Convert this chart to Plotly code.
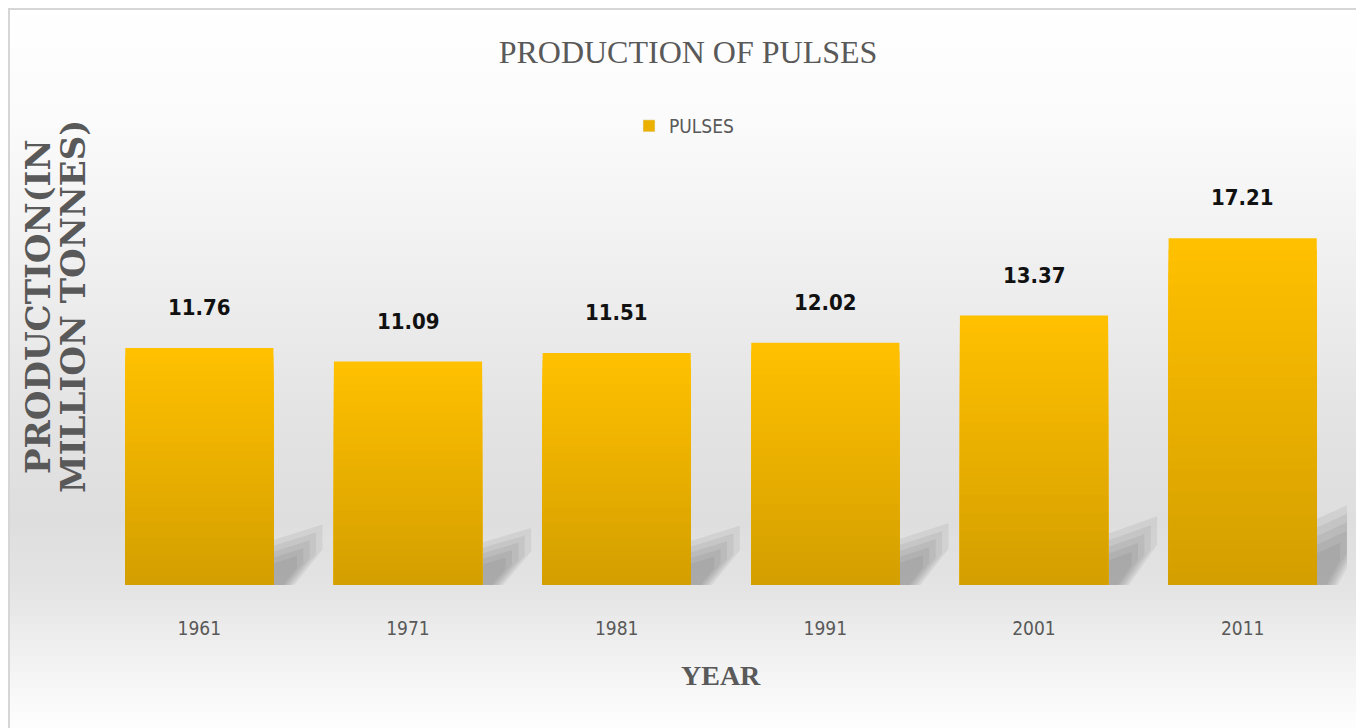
import plotly.graph_objects as go

# ---- data ----
years = ["1961", "1971", "1981", "1991", "2001", "2011"]
production = [11.76, 11.09, 11.51, 12.02, 13.37, 17.21]
series_name = "PULSES"
chart_title = "PRODUCTION OF PULSES"
y_title_lines = ["PRODUCTION(IN", "MILLION TONNES)"]
x_title = "YEAR"

# ---- layout geometry (window pixels; page body has an 8px margin) ----
OFF = 8
W, H = 1364 - OFF, 728 - OFF
PLOT_TOP, PLOT_BOTTOM = 212 - OFF, 585 - OFF
PLOT_LEFT, PLOT_RIGHT = 95 - OFF, 1347 - OFF
PH = PLOT_BOTTOM - PLOT_TOP

NARROW = "DejaVu Sans Condensed, Liberation Sans Narrow, Arial Narrow, Liberation Sans"


def py(p):
    """window pixel row -> paper y"""
    return (PLOT_BOTTOM - (p - OFF)) / PH


def px(p):
    """window pixel column -> paper x"""
    return ((p - OFF) - PLOT_LEFT) / (PLOT_RIGHT - PLOT_LEFT)


def hexmix(c1, c2, t):
    a = [int(c1[i:i + 2], 16) for i in (1, 3, 5)]
    b = [int(c2[i:i + 2], 16) for i in (1, 3, 5)]
    return "#%02x%02x%02x" % tuple(round(a[k] + (b[k] - a[k]) * t) for k in range(3))


fig = go.Figure()

# bar with vertical gradient (layered overlay, each layer derived from data)
TOP_C, BOT_C = "#FFC000", "#D49F00"
N = 30
for k in range(N):
    frac = 1 - k / N
    fig.add_trace(go.Bar(
        x=years, y=[v * frac for v in production],
        marker=dict(color=hexmix(TOP_C, BOT_C, k / (N - 1)), line=dict(width=0)),
        name=series_name, showlegend=False, hoverinfo="skip",
    ))
# legend entry
fig.add_trace(go.Bar(
    x=years, y=[None] * len(years), name=series_name,
    marker=dict(color="#EBB000"), showlegend=True,
))

shapes = []
# background gradient (white -> gray -> white)
stops = [(0, "#ffffff"), (120, "#fbfbfb"), (260, "#f0f0f0"), (420, "#e3e3e3"),
         (520, "#dedede"), (590, "#e4e4e4"), (650, "#f0f0f0"), (728, "#fefefe")]
bands = 90
for i in range(bands):
    p0 = OFF + (728 - OFF) * i / bands
    p1 = OFF + (728 - OFF) * (i + 1) / bands
    pm = (p0 + p1) / 2
    for j in range(len(stops) - 1):
        if stops[j][0] <= pm <= stops[j + 1][0]:
            t = (pm - stops[j][0]) / (stops[j + 1][0] - stops[j][0])
            col = hexmix(stops[j][1], stops[j + 1][1], t)
            break
    shapes.append(dict(type="rect", xref="paper", yref="paper", layer="below",
                       x0=px(OFF), x1=px(1364), y0=py(p1 + 0.6), y1=py(p0),
                       fillcolor=col, line=dict(width=0)))
# frame border lines
shapes.append(dict(type="line", xref="paper", yref="paper", layer="below",
                   x0=px(OFF + 1), x1=px(OFF + 1), y0=py(728), y1=py(OFF),
                   line=dict(color="#d6d6d6", width=2)))
shapes.append(dict(type="line", xref="paper", yref="paper", layer="below",
                   x0=px(OFF), x1=px(1364), y0=py(OFF + 1), y1=py(OFF + 1),
                   line=dict(color="#d6d6d6", width=2)))

# soft shadows to the right of each bar (nested translucent layers = blur)
half = 0.355
for i, v in enumerate(production):
    xr = i + half
    layers = 5
    for m in range(layers):
        s = 1 - m * 0.13
        path = (f"M {xr},0 L {xr},{0.19 * v * s} "
                f"L {xr + 0.235 * s},{0.255 * v * s} "
                f"L {xr + 0.235 * s},{0.15 * v * s} "
                f"L {xr + 0.1 * s},0 Z")
        shapes.append(dict(type="path", xref="x", yref="y", layer="below",
                           path=path, fillcolor="rgba(100,100,100,0.11)",
                           line=dict(width=0)))

annotations = []
# value labels
for i, v in enumerate(production):
    annotations.append(dict(x=i, y=v, xref="x", yref="y", text=f"<b>{v:.2f}</b>",
                            showarrow=False, yanchor="bottom", yshift=26,
                            font=dict(family=NARROW, size=22, color="#111111")))
# y-axis title (two lines)
for line_text, xpix in zip(y_title_lines, (38, 73)):
    annotations.append(dict(x=px(xpix), y=py(307), xref="paper", yref="paper",
                            text=f"<b>{line_text}</b>", textangle=-90, showarrow=False,
                            xanchor="center", yanchor="middle",
                            font=dict(family="DejaVu Serif", size=34, color="#595959")))
# x-axis title
annotations.append(dict(x=px(721), y=py(675), xref="paper", yref="paper",
                        text=f"<b>{x_title}</b>", showarrow=False,
                        xanchor="center", yanchor="middle",
                        font=dict(family="Liberation Serif, Times New Roman", size=28,
                                  color="#595959")))

fig.update_layout(
    width=W, height=H,
    margin=dict(l=PLOT_LEFT, r=W - PLOT_RIGHT, t=PLOT_TOP, b=H - PLOT_BOTTOM),
    paper_bgcolor="#ffffff", plot_bgcolor="rgba(0,0,0,0)",
    barmode="overlay", bargap=0.29,
    title=dict(text=chart_title, x=px(688), xref="paper", xanchor="center",
               y=1 - (52 - OFF) / H, yref="container", yanchor="middle",
               font=dict(family="Liberation Serif, Times New Roman", size=32,
                         color="#595959")),
    showlegend=True,
    legend=dict(orientation="h", x=px(684), xanchor="center", y=py(126), yanchor="middle",
                bgcolor="rgba(0,0,0,0)",
                font=dict(family=NARROW, size=19, color="#595959"),
                itemwidth=30),
    xaxis=dict(type="category", range=[-0.5, len(years) - 0.5], autorange=False,
               showgrid=False, zeroline=False, showline=False,
               ticks="outside", ticklen=26, tickcolor="rgba(0,0,0,0)",
               tickfont=dict(family=NARROW, size=19, color="#595959")),
    yaxis=dict(range=[0, 18.51], autorange=False, visible=False,
               showgrid=False, zeroline=False),
    shapes=shapes, annotations=annotations,
)

fig.write_html("out.html")
